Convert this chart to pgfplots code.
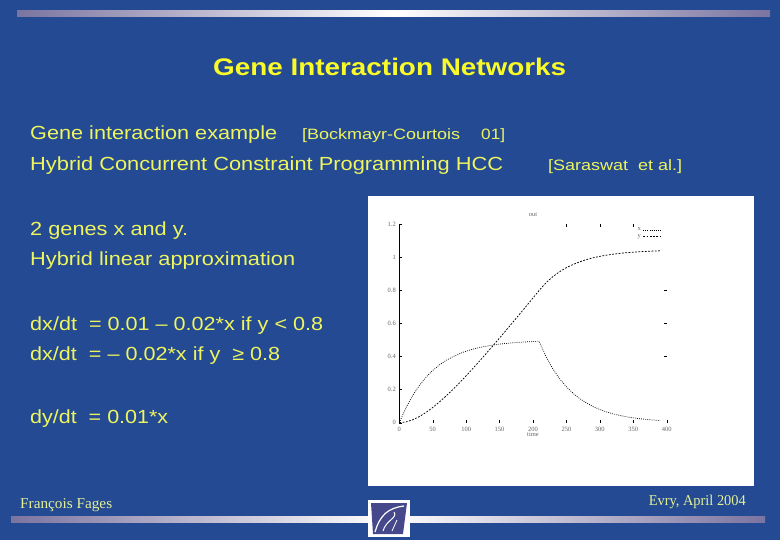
\documentclass[border=0pt]{standalone}
\usepackage{graphicx}
\usepackage{pgfplots}
\pgfplotsset{compat=1.18}
\usepackage{fontspec}
\setmainfont{Liberation Sans}
\newfontfamily\serif{Liberation Serif}
\definecolor{bg}{RGB}{35,74,146}
\definecolor{txt}{RGB}{238,245,95}
\definecolor{ttl}{RGB}{250,250,40}
\definecolor{foot}{RGB}{228,240,150}
\definecolor{barend}{RGB}{122,116,160}
\definecolor{logo}{RGB}{70,72,140}
\newcommand{\fit}[2]{\resizebox{#1}{\height}{#2}}
\begin{document}
\begin{tikzpicture}
\fill[bg] (0,0) rectangle (780bp,-540bp);
% gradient bars
\shade[left color=barend, right color=barend, middle color=white] (17bp,-10bp) rectangle (770bp,-16.5bp);
\shade[left color=barend, right color=barend, middle color=white] (11bp,-516bp) rectangle (765bp,-522.5bp);
% logo
\fill[white] (368bp,-500bp) rectangle (410bp,-537bp);
\fill[logo] (371bp,-503bp) -- (407bp,-503bp) -- (403bp,-534bp) -- (373bp,-534bp) -- cycle;
\draw[white, line width=1.2pt] (375bp,-532bp) .. controls (380bp,-515bp) and (388bp,-508bp) .. (404bp,-506bp);
\draw[white, line width=1pt] (383bp,-531bp) .. controls (386bp,-520bp) and (398bp,-518bp) .. (394bp,-512bp);
\draw[white, line width=0.8pt] (392bp,-531bp) -- (397bp,-520bp);
% title
\node[anchor=base west, inner sep=0, text=ttl, font=\fontsize{24bp}{28bp}\selectfont\bfseries] at (213bp,-75bp) {\fit{353bp}{Gene Interaction Networks}};
% body text
\begin{scope}[every node/.style={anchor=base west, inner sep=0, text=txt}]
\node[font=\fontsize{19bp}{23bp}\selectfont] at (30bp,-139bp) {\fit{247bp}{Gene interaction example}};
\node[font=\fontsize{15bp}{18bp}\selectfont] at (302bp,-139bp) {\fit{158bp}{[Bockmayr-Courtois}};
\node[font=\fontsize{15bp}{18bp}\selectfont] at (481bp,-139bp) {\fit{24bp}{01]}};
\node[font=\fontsize{19bp}{23bp}\selectfont] at (30bp,-170bp) {\fit{473bp}{Hybrid Concurrent Constraint Programming HCC}};
\node[font=\fontsize{15bp}{18bp}\selectfont] at (548bp,-170bp) {\fit{134bp}{[Saraswat\ \ et al.]}};
\node[font=\fontsize{19bp}{23bp}\selectfont] at (30bp,-235bp) {\fit{158bp}{2 genes x and y.}};
\node[font=\fontsize{19bp}{23bp}\selectfont] at (30bp,-265bp) {\fit{265bp}{Hybrid linear approximation}};
\node[font=\fontsize{19bp}{23bp}\selectfont] at (30bp,-330bp) {\fit{293bp}{dx/dt\ \ = 0.01 – 0.02*x if y < 0.8}};
\node[font=\fontsize{19bp}{23bp}\selectfont] at (30bp,-360bp) {\fit{250bp}{dx/dt\ \ = – 0.02*x if y\ \ ≥ 0.8}};
\node[font=\fontsize{19bp}{23bp}\selectfont] at (30bp,-423bp) {\fit{138bp}{dy/dt\ \ = 0.01*x}};
\end{scope}
% footer
\node[anchor=base west, inner sep=0, text=foot, font=\fontsize{15bp}{18bp}\serif] at (20bp,-508bp) {\fit{92bp}{François Fages}};
\node[anchor=base east, inner sep=0, text=foot, font=\fontsize{15bp}{18bp}\serif] at (746bp,-505bp) {\fit{97bp}{Evry,\ April 2004}};
% chart box
\fill[white] (367.5bp,-196bp) rectangle (754bp,-486bp);
\begin{axis}[
  at={(399.3bp,-422.7bp)}, anchor=south west,
  scale only axis, width=267.4bp, height=198.4bp,
  xmin=0, xmax=400, ymin=0, ymax=1.2,
  xtick={0,50,100,150,200,250,300,350,400},
  ytick={0,0.2,0.4,0.6,0.8,1,1.2},
  axis x line*=bottom, axis y line*=left,
  x axis line style={draw=none},
  y axis line style={black, line width=0.7pt},
  tick align=inside, major tick length=3bp,
  tick style={black, line width=0.4pt},
  /pgf/number format/assume math mode=true,
  ticklabel style={font=\fontsize{6.5bp}{7bp}\serif, text=black!60},
  xticklabel style={yshift=-0.5bp},
  title={out}, title style={font=\fontsize{6.5bp}{7bp}\serif, text=black!60, yshift=-2bp},
  xlabel={time}, xlabel style={font=\fontsize{6.5bp}{7bp}\serif, text=black!60, yshift=6bp},
  legend style={draw=none, fill=none, font=\fontsize{6.5bp}{7bp}\serif, text=black!60,
    at={(0.98,0.995)}, anchor=north east, row sep=-2bp, inner sep=0.5pt},
  legend plot pos=right, legend cell align=right,
  clip=false,
]
\addplot[black, line width=0.75pt, dash pattern=on 0.8pt off 1.3pt] coordinates {
(0,0) (10,0.0906) (20,0.1648) (30,0.2256) (40,0.2753) (50,0.3161) (60,0.3494)
(70,0.3767) (80,0.3991) (90,0.4174) (100,0.4323) (110,0.4446) (120,0.4546)
(130,0.4629) (140,0.4696) (150,0.4751) (160,0.4796) (170,0.4833) (180,0.4863)
(190,0.4888) (200,0.4908) (209,0.4923) (220,0.3951) (230,0.3234) (240,0.2648)
(250,0.2168) (260,0.1775) (270,0.1453) (280,0.1190) (290,0.0974) (300,0.0798)
(310,0.0653) (320,0.0535) (330,0.0438) (340,0.0358) (350,0.0293) (360,0.0240)
(370,0.0197) (380,0.0161) (390,0.0132)
};
\addlegendentry{x}
\addplot[black, line width=0.75pt, dash pattern=on 1.8pt off 1.5pt] coordinates {
(0,0) (10,0.0047) (20,0.0176) (30,0.0372) (40,0.0623) (50,0.0920) (60,0.1253)
(70,0.1616) (80,0.2004) (90,0.2413) (100,0.2838) (110,0.3277) (120,0.3727)
(130,0.4185) (140,0.4652) (150,0.5124) (160,0.5602) (170,0.6083) (180,0.6568)
(190,0.7056) (200,0.7546) (209,0.7988) (220,0.8486) (230,0.8844) (240,0.9138)
(250,0.9378) (260,0.9574) (270,0.9735) (280,0.9867) (290,0.9975) (300,1.0063)
(310,1.0135) (320,1.0194) (330,1.0243) (340,1.0283) (350,1.0315) (360,1.0342)
(370,1.0363) (380,1.0381) (390,1.0396)
};
\addlegendentry{y}
\end{axis}
\begin{axis}[
  at={(399.3bp,-422.7bp)}, anchor=south west,
  scale only axis, width=267.4bp, height=198.4bp,
  xmin=0, xmax=400, ymin=0, ymax=1.2,
  axis x line*=top, axis y line*=right,
  axis line style={draw=none},
  xtick={250,300,350}, ytick={0.4,0.6,0.8},
  xticklabels={}, yticklabels={},
  tick align=inside, major tick length=3bp,
  tick style={black, line width=0.4pt},
]
\end{axis}
\end{tikzpicture}
\end{document}
